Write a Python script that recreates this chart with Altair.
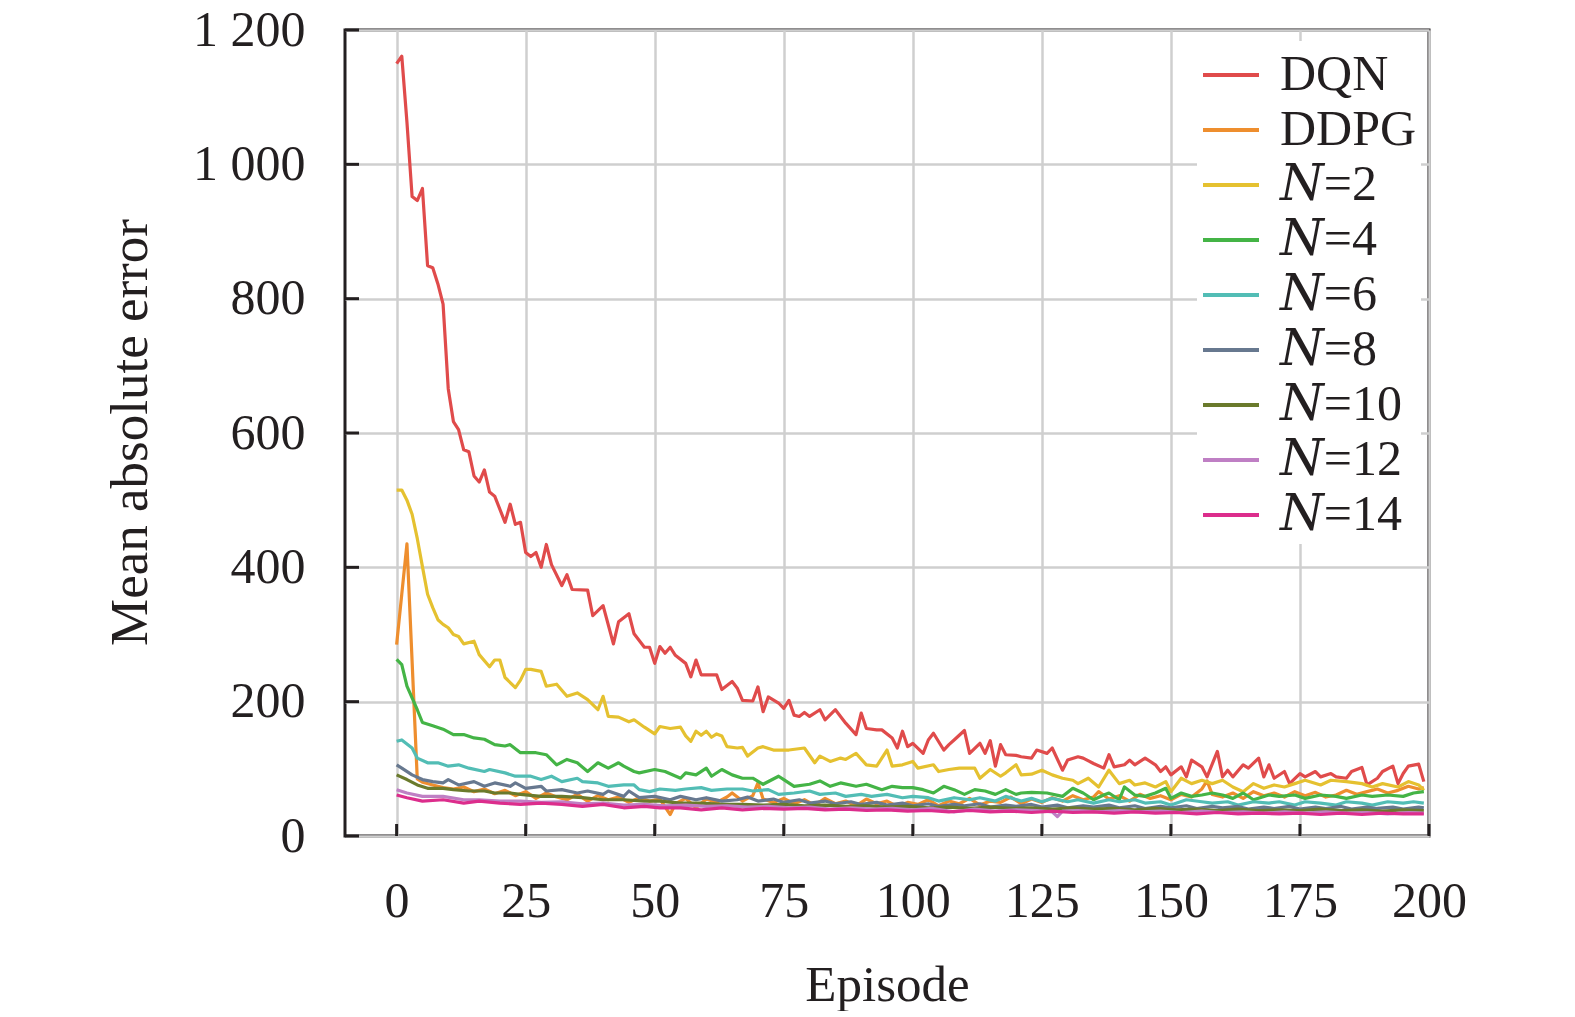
import altair as alt
import pandas as pd

SERIES = ["DQN", "DDPG", "N=2", "N=4", "N=6", "N=8", "N=10", "N=12", "N=14"]
LABELS = ["DQN", "DDPG", "\U0001D441=2", "\U0001D441=4", "\U0001D441=6", "\U0001D441=8",
          "\U0001D441=10", "\U0001D441=12", "\U0001D441=14"]
COLORS = ["#e04b4b", "#ee8e2e", "#e5c130", "#44b446", "#52bdb5", "#67788f",
          "#6a7a2c", "#bf7fc4", "#dc2d8c"]

X_TICKS = [0, 25, 50, 75, 100, 125, 150, 175, 200]
Y_TICKS = [0, 200, 400, 600, 800, 1000, 1200]

DQN = [(0,1150),(1,1161),(2,1063),(3,952),(4,946),(5,964),(6,849),(7,846),(8,822),(9,792),
       (10,666),(11,617),(12,605),(13,575),(14,572),(15,536),(16,527),(17,545),(18,512),(19,506),
       (21,467),(22,494),(23,464),(24,467),(25,422),(26,416),(27,422),(28,400),(29,434),(30,404),
       (32,373),(33,389),(34,367),(37,366),(38,328),(40,343),(42,286),(43,319),(45,331),(46,301),
       (48,281),(49,281),(50,257),(51,282),(52,272),(53,281),(54,269),(56,257),(57,237),(58,262),
       (59,240),(61,240),(62,240),(63,218),(65,230),(66,220),(67,202),(69,201),(70,222),(71,185),
       (72,207),(74,198),(75,190),(76,202),(77,180),(78,178),(79,184),(80,178),(82,188),(83,173),
       (85,188),(86,178),(87,168),(89,151),(90,183),(91,160),(93,158),(94,158),(96,146),(97,131),
       (98,156),(99,133),(100,138),(102,123),(103,143),(104,153),(106,128),(107,136),(108,143),
       (110,157),(111,123),(113,138),(114,123),(115,142),(116,104),(117,136),(118,121),(120,120),
       (121,118),(123,116),(124,128),(126,123),(127,131),(129,98),(130,113),(132,118),(133,116),
       (135,108),(137,101),(138,121),(139,103),(141,106),(142,113),(143,106),(145,116),(147,106),
       (148,96),(149,103),(150,91),(152,103),(153,88),(154,113),(156,103),(157,88),(159,126),
       (160,88),(161,98),(162,88),(164,106),(165,101),(167,116),(168,88),(169,106),(170,86),
       (172,96),(173,78),(175,93),(176,88),(178,96),(179,88),(181,93),(182,88),(184,86),(185,96),
       (187,102),(188,76),(190,86),(191,96),(193,104),(194,78),(195,93),(196,104),(198,107),(199,81)]

DDPG = [(0,285),(1,360),(2,435),(4,85),(5,80),(7,76),(9,72),(11,70),(13,73),(15,66),(17,70),
        (19,63),(21,68),(23,60),(25,66),(27,56),(29,64),(31,58),(33,54),(35,62),(37,52),(39,60),
        (41,54),(43,58),(45,50),(47,57),(49,52),(51,55),(53,32),(54,48),(56,56),(58,42),(60,55),
        (62,50),(64,58),(65,64),(67,52),(69,60),(70,79),(71,55),(73,50),(75,56),(77,48),(79,54),
        (81,46),(83,56),(85,48),(87,52),(89,45),(91,55),(93,48),(95,52),(97,44),(99,50),(101,47),
        (103,54),(105,45),(107,52),(109,48),(111,56),(113,46),(115,52),(117,50),(119,58),(121,48),
        (123,55),(125,50),(127,57),(129,52),(131,60),(133,54),(135,58),(136,66),(138,55),(140,60),
        (142,52),(144,62),(146,56),(148,60),(150,54),(152,62),(154,58),(156,70),(157,82),(158,62),
        (160,58),(162,64),(164,56),(166,66),(168,60),(170,64),(172,58),(174,66),(176,60),(178,65),
        (180,58),(182,61),(184,68),(186,62),(188,66),(190,70),(192,64),(194,68),(196,74),(198,70),
        (199,72)]

N2 = [(0,515),(1,515),(2,500),(3,479),(4,443),(5,401),(6,360),(7,340),(8,322),(9,315),(10,310),
      (11,300),(12,297),(13,286),(15,290),(16,270),(18,252),(19,262),(20,262),(21,236),(23,221),
      (24,232),(25,248),(26,248),(28,245),(29,223),(31,226),(33,208),(35,213),(37,203),(39,188),
      (40,208),(41,178),(43,177),(45,170),(46,173),(48,162),(50,152),(51,163),(53,160),(55,162),
      (56,149),(57,141),(58,156),(59,150),(60,156),(61,147),(62,152),(63,149),(64,133),(66,131),
      (67,132),(68,119),(70,131),(71,133),(73,128),(75,128),(76,128),(79,131),(81,109),(82,119),
      (84,111),(86,116),(87,114),(89,123),(91,106),(93,104),(95,128),(96,104),(98,106),(100,111),
      (101,101),(104,106),(105,96),(107,99),(109,101),(112,101),(113,86),(115,99),(117,89),
      (118,94),(120,106),(121,91),(123,92),(125,98),(127,91),(129,86),(131,83),(132,78),(134,86),
      (136,73),(138,98),(140,78),(142,83),(143,76),(145,79),(147,73),(149,81),(150,66),(152,86),
      (154,78),(156,83),(158,78),(160,83),(162,73),(164,66),(166,78),(168,71),(170,76),(172,73),
      (174,78),(176,83),(179,76),(181,83),(184,81),(187,78),(189,73),(191,78),(194,73),(196,81),
      (198,76),(199,68)]

N4 = [(0,263),(1,255),(2,223),(4,188),(5,169),(7,164),(9,159),(11,151),(13,151),(15,146),
      (17,144),(19,136),(21,134),(22,136),(24,124),(27,124),(29,121),(31,106),(33,114),(35,109),
      (37,96),(39,109),(41,101),(43,109),(44,104),(46,96),(47,94),(50,99),(52,96),(55,86),(56,94),
      (58,91),(60,101),(61,89),(63,99),(65,91),(67,86),(69,86),(71,77),(74,89),(75,84),(77,74),
      (80,77),(82,82),(84,74),(86,79),(89,74),(91,77),(94,69),(96,74),(98,72),(100,72),(102,69),
      (104,64),(106,74),(108,69),(110,62),(112,69),(114,67),(116,62),(118,69),(120,62),(121,64),
      (123,65),(126,64),(129,59),(131,71),(133,64),(135,54),(137,61),(138,64),(140,54),(141,73),
      (143,61),(145,59),(147,64),(149,71),(150,56),(152,64),(154,59),(156,61),(158,64),(160,61),
      (162,56),(164,64),(166,54),(169,61),(171,59),(174,61),(176,56),(179,61),(182,59),(184,56),
      (187,61),(189,59),(192,61),(195,59),(197,64),(199,66)]

N6 = [(0,141),(1,143),(3,131),(4,116),(6,109),(8,109),(10,104),(12,106),(14,101),(17,96),
      (18,99),(21,94),(23,89),(26,89),(28,84),(30,89),(32,81),(35,86),(36,81),(39,79),(41,74),
      (44,76),(46,76),(47,69),(49,66),(51,70),(54,68),(56,70),(59,72),(61,68),(64,70),(67,70),
      (69,67),(72,69),(74,62),(77,64),(80,67),(82,62),(85,64),(87,59),(90,62),(92,59),(95,62),
      (98,57),(100,59),(103,57),(105,52),(108,57),(111,54),(113,57),(116,52),(118,59),(121,52),
      (123,56),(125,51),(127,56),(130,51),(132,54),(135,49),(138,54),(140,51),(143,54),(145,49),
      (148,51),(150,46),(153,54),(156,51),(158,49),(161,51),(163,46),(166,51),(169,49),(171,51),
      (174,46),(176,51),(179,49),(182,46),(184,51),(187,49),(189,46),(192,51),(195,49),(197,51),
      (199,49)]

N8 = [(0,106),(1,101),(3,91),(5,84),(7,81),(9,79),(10,84),(12,76),(15,81),(17,74),(19,79),
      (22,74),(23,79),(25,71),(28,74),(29,67),(32,69),(35,64),(37,67),(40,62),(41,67),(44,59),
      (45,67),(47,57),(50,59),(53,54),(55,59),(58,54),(60,57),(63,52),(66,54),(68,58),(70,52),
      (73,55),(75,50),(78,54),(80,49),(83,52),(85,48),(88,51),(90,47),(93,50),(95,46),(98,49),
      (100,45),(103,48),(105,44),(108,47),(110,45),(113,48),(115,43),(118,46),(120,44),(123,47),
      (125,43),(128,46),(130,42),(133,45),(135,43),(138,46),(140,42),(143,45),(145,41),(148,44),
      (150,42),(153,45),(155,41),(158,44),(160,42),(163,44),(165,40),(168,43),(170,41),(173,44),
      (175,40),(178,43),(180,41),(183,44),(185,40),(188,43),(190,41),(193,43),(195,40),(198,43),
      (199,42)]

N10 = [(0,91),(2,84),(4,76),(6,71),(9,71),(11,69),(14,67),(17,67),(19,64),(22,64),(24,62),
       (28,59),(32,59),(36,57),(40,54),(44,54),(48,52),(51,52),(55,49),(59,49),(63,47),(67,47),
       (71,46),(75,47),(79,45),(83,46),(87,44),(91,45),(95,43),(99,44),(103,42),(107,43),(111,41),
       (115,43),(119,41),(123,42),(127,40),(131,42),(135,40),(139,41),(143,39),(147,41),(151,39),
       (155,40),(159,38),(163,40),(167,38),(171,39),(175,38),(179,40),(183,38),(187,39),(191,37),
       (195,39),(199,38)]

N12 = [(0,69),(2,64),(5,59),(9,59),(13,54),(16,54),(20,52),(24,52),(28,50),(32,51),(36,48),
       (40,49),(44,46),(48,47),(52,45),(56,46),(60,44),(64,45),(68,43),(72,44),(76,42),(80,43),
       (84,40),(88,42),(92,40),(96,41),(100,39),(104,41),(108,36),(112,40),(116,37),(120,39),
       (124,38),(127,36),(128,29),(129,37),(132,38),(136,36),(140,38),(144,36),(148,37),(152,35),
       (156,37),(160,35),(164,36),(168,34),(172,36),(176,34),(180,36),(184,34),(188,35),(192,33),
       (196,35),(199,34)]

N14 = [(0,61),(2,57),(5,52),(9,54),(13,49),(16,52),(20,49),(24,47),(28,49),(32,47),(36,44),
       (40,47),(44,42),(48,44),(51,42),(55,42),(59,39),(63,42),(67,39),(71,41),(75,40),(79,41),
       (83,39),(87,40),(91,38),(95,39),(99,37),(103,38),(107,36),(111,38),(115,36),(119,37),
       (123,35),(127,37),(131,35),(135,36),(139,34),(143,36),(147,34),(151,35),(155,33),(159,35),
       (163,33),(167,34),(171,33),(175,34),(179,32),(183,34),(187,32),(191,34),(195,33),(199,33)]

ALL = [DQN, DDPG, N2, N4, N6, N8, N10, N12, N14]

rows = []
for lab, pts in zip(LABELS, ALL):
    for ep, v in pts:
        rows.append({"episode": ep, "value": v, "series": lab})
df = pd.DataFrame(rows)

FONT = "Liberation Serif"
LEGEND_FONT = "Liberation Serif, DejaVu Serif"
INK = "#231f20"
W, H = 1084, 806

xscale = alt.Scale(domain=[-10, 200], nice=False, zero=False)
yscale = alt.Scale(domain=[0, 1200], nice=False)

lines = alt.Chart(df).mark_line(strokeWidth=3.2, strokeJoin="round").encode(
    x=alt.X("episode:Q", scale=xscale,
            axis=alt.Axis(values=X_TICKS, title="Episode", grid=True, ticks=False, tickSize=0,
                          domain=False, labelPadding=80, labelBaseline="alphabetic",
                          labelFlush=False, titleY=164, titleX=W / 2,
                          titleBaseline="alphabetic")),
    y=alt.Y("value:Q", scale=yscale,
            axis=alt.Axis(values=Y_TICKS, title="Mean absolute error", grid=True, ticks=False,
                          tickSize=0, domain=False, labelPadding=40, labelFlush=False,
                          labelExpr="replace(format(datum.value, ','), ',', ' ')",
                          titleX=-199, titleY=H / 2 - 1, titleAngle=-90, titleFontSize=53,
                          titleBaseline="alphabetic", titleAlign="center")),
    color=alt.Color("series:N", sort=LABELS,
                    scale=alt.Scale(domain=LABELS, range=COLORS),
                    legend=alt.Legend(title=None, orient="none", legendX=852, legendY=11,
                                      symbolType="stroke", symbolSize=3136,
                                      symbolStrokeWidth=4, labelFont=LEGEND_FONT,
                                      labelFontSize=50, labelColor=INK, labelOffset=19,
                                      rowPadding=-3.6, padding=4, fillColor="white",
                                      labelLimit=400)),
)

ydf = pd.DataFrame({"value": Y_TICKS})
yticks = alt.Chart(ydf).mark_rule(color=INK, strokeWidth=3).encode(
    y=alt.Y("value:Q", scale=yscale), x=alt.value(0), x2=alt.value(14))

xdf = pd.DataFrame({"episode": X_TICKS})
xticks = alt.Chart(xdf).mark_rule(color=INK, strokeWidth=3).encode(
    x=alt.X("episode:Q", scale=xscale), y=alt.value(H), y2=alt.value(H - 12))

chart = alt.layer(lines, yticks, xticks).properties(
    width=W, height=H,
    autosize=alt.AutoSizeParams(type="none"),
    padding={"left": 337, "top": 22, "right": 130, "bottom": 175},
).configure(
    background="white"
).configure_view(
    stroke=INK, strokeWidth=3
).configure_axis(
    labelFont=FONT, labelFontSize=50, labelColor=INK,
    titleFont=FONT, titleFontSize=51, titleColor=INK, titleFontWeight="normal",
    gridColor="#cfcfcf", gridWidth=2.5, gridOpacity=1,
)

chart.save("out.html", embed_options={"renderer": "svg", "actions": False})
